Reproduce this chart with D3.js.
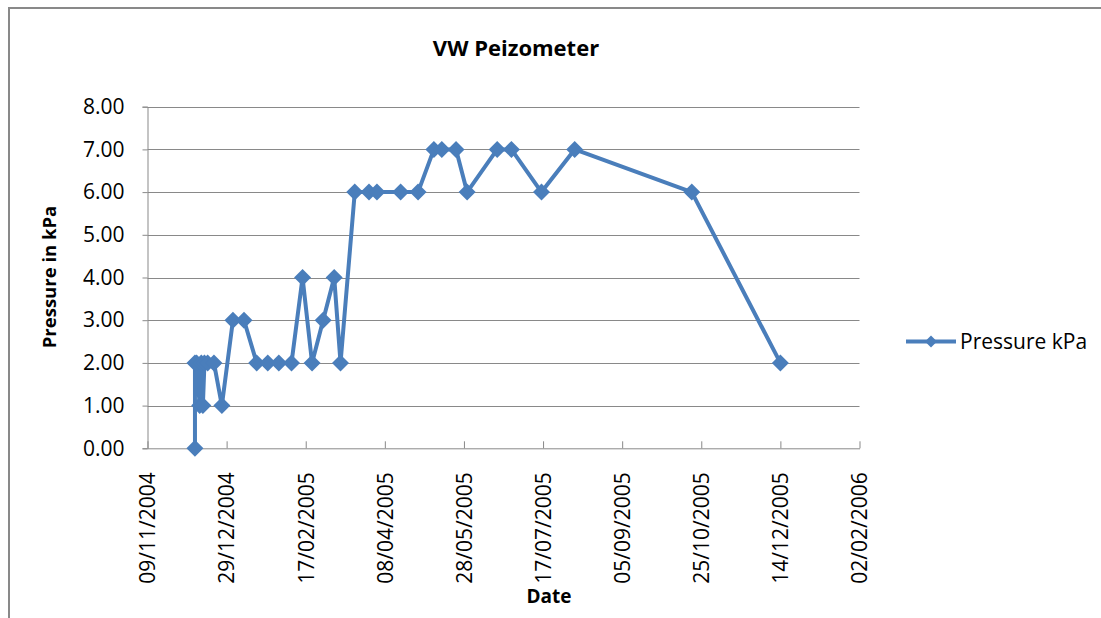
<!DOCTYPE html>
<html>
<head>
<meta charset="utf-8">
<script src="https://cdn.jsdelivr.net/npm/d3@7"></script>
<style>
  html, body { margin: 0; padding: 0; background: #fff; }
  svg { display: block; }
  text { font-family: "Open Sans", sans-serif; fill: #000; }
</style>
</head>
<body>
<svg id="chart" width="1101" height="618"></svg>
<script>
// ---- data ----
const dates = [
  "09/12/2004","09/12/2004","10/12/2004","12/12/2004","13/12/2004","14/12/2004","15/12/2004","17/12/2004",
  "21/12/2004","26/12/2004","02/01/2005","09/01/2005","17/01/2005","24/01/2005","31/01/2005","08/02/2005",
  "15/02/2005","21/02/2005","28/02/2005","07/03/2005","11/03/2005","20/03/2005","29/03/2005","03/04/2005",
  "18/04/2005","29/04/2005","09/05/2005","14/05/2005","23/05/2005","30/05/2005","18/06/2005","27/06/2005",
  "16/07/2005","06/08/2005","19/10/2005","14/12/2005"
];
const pressure = [
  0, 2, 2, 1, 2, 1, 2, 2,
  2, 1, 3, 3, 2, 2, 2, 2,
  4, 2, 3, 4, 2, 6, 6, 6,
  6, 6, 7, 7, 7, 6, 7, 7,
  6, 7, 6, 2
];
const xTickLabels = ["09/11/2004","29/12/2004","17/02/2005","08/04/2005","28/05/2005","17/07/2005","05/09/2005","25/10/2005","14/12/2005","02/02/2006"];
const yTickValues = [0,1,2,3,4,5,6,7,8];
const seriesName = "Pressure kPa";
const chartTitle = "VW Peizometer";
const xTitle = "Date";
const yTitle = "Pressure in kPa";

// ---- setup ----
(function () {
const parse = d3.timeParse("%d/%m/%Y");
const fmt = d3.timeFormat("%d/%m/%Y");
const data = dates.map((d, i) => ({ date: parse(d), value: pressure[i] }));
const xTicks = xTickLabels.map(parse);

const svg = d3.select("#chart");
const pLeft = 147.5, pRight = 859.5, pTop = 106.7, pBottom = 448.3;
const x = d3.scaleTime().domain([xTicks[0], xTicks[xTicks.length - 1]]).range([pLeft, pRight]);
const y = d3.scaleLinear().domain([0, 8]).range([pBottom, pTop]);

const gray = "#898989";
const blue = "#4A7EBB";

// outer frame
svg.append("path")
  .attr("d", "M9,620 L9,8 L1105,8")
  .attr("fill", "none").attr("stroke", gray).attr("stroke-width", 2);

// gridlines
svg.append("g").selectAll("line").data(yTickValues.filter(v => v > 0)).join("line")
  .attr("x1", pLeft).attr("x2", pRight)
  .attr("y1", d => Math.round(y(d)) + 0.5).attr("y2", d => Math.round(y(d)) + 0.5)
  .attr("stroke", gray).attr("stroke-width", 1);

// y axis
const yAxis = d3.axisLeft(y).tickValues(yTickValues).tickFormat(d3.format(".2f")).tickSize(5).tickPadding(18);
const gy = svg.append("g").attr("transform", `translate(${pLeft},0)`).call(yAxis);
gy.select(".domain").attr("stroke", gray);
gy.selectAll(".tick line").attr("stroke", gray);
gy.selectAll(".tick text").attr("font-size", 21).attr("font-family", "Open Sans").attr("fill", "#000");

// x axis
const xAxis = d3.axisBottom(x).tickValues(xTicks).tickFormat(fmt).tickSize(-7).tickSizeOuter(0).tickPadding(0);
const gx = svg.append("g").attr("transform", `translate(0,${pBottom})`).call(xAxis);
gx.select(".domain").attr("stroke", gray);
gx.selectAll(".tick line").attr("stroke", gray);
gx.selectAll(".tick text")
  .attr("font-size", 21).attr("font-family", "Open Sans").attr("fill", "#000")
  .attr("transform", "rotate(-90)")
  .attr("text-anchor", "end")
  .attr("x", -24).attr("y", 0).attr("dy", "0.35em");

// line
const line = d3.line().x(d => x(d.date)).y(d => y(d.value));
svg.append("path").datum(data)
  .attr("d", line).attr("fill", "none")
  .attr("stroke", blue).attr("stroke-width", 4).attr("stroke-linejoin", "round");

// markers
const diamond = r => `M0,${-r}L${r},0L0,${r}L${-r},0Z`;
svg.append("g").selectAll("path").data(data).join("path")
  .attr("d", diamond(8.5))
  .attr("transform", d => `translate(${x(d.date)},${y(d.value)})`)
  .attr("fill", blue);

// titles
svg.append("text").attr("x", 516).attr("y", 48).attr("dy", "0.35em")
  .attr("text-anchor", "middle").attr("font-size", 22).attr("font-weight", "bold").text(chartTitle);
svg.append("text").attr("x", 549).attr("y", 596).attr("dy", "0.35em")
  .attr("text-anchor", "middle").attr("font-size", 19).attr("font-weight", "bold").text(xTitle);
svg.append("text").attr("transform", "translate(50,277) rotate(-90)").attr("dy", "0.35em")
  .attr("text-anchor", "middle").attr("font-size", 18.5).attr("font-weight", "bold").text(yTitle);

// legend
const lg = svg.append("g").attr("transform", "translate(906,341.5)");
lg.append("line").attr("x1", 0).attr("x2", 50).attr("y1", 0).attr("y2", 0)
  .attr("stroke", blue).attr("stroke-width", 4);
lg.append("path").attr("d", diamond(6)).attr("transform", "translate(25,0)").attr("fill", blue);
lg.append("text").attr("x", 54).attr("y", 0).attr("dy", "0.35em").attr("font-size", 21).text(seriesName);
})();
</script>
</body>
</html>
